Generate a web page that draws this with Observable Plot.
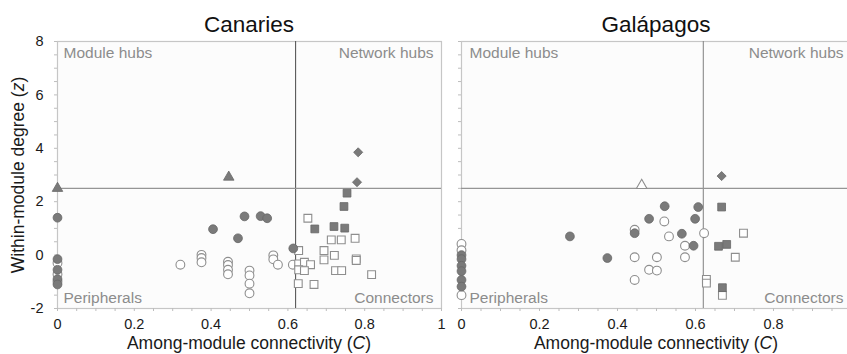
<!DOCTYPE html>
<html>
<head>
<meta charset="utf-8">
<script src="https://cdn.jsdelivr.net/npm/d3@7"></script>
<script src="https://cdn.jsdelivr.net/npm/@observablehq/plot@0.6"></script>
<style>
  html, body { margin: 0; padding: 0; background: #fff; overflow: hidden; }
  #chart { position: relative; width: 847px; height: 354px; overflow: hidden; font-family: "Liberation Sans", Arial, Helvetica, sans-serif; }
  #chart svg { position: absolute; top: 0; }
</style>
</head>
<body>
<div id="chart"></div>
<script>
// ---------- data: [C (among-module connectivity), z (within-module degree)] ----------
const panelTitles = ["Canaries", "Galápagos"];
const quadrantLabels = ["Module hubs", "Network hubs", "Peripherals", "Connectors"];
const xTicks = [0, 0.2, 0.4, 0.6, 0.8, 1];
const yTicks = [-2, 0, 2, 4, 6, 8];
const cThreshold = 0.62;
const zThreshold = 2.5;

// Canaries
const canFilledCircles = [[0,1.4],[0,-0.15],[0,-0.55],[0,-0.9],[0,-1.1],
  [0.405,0.97],[0.487,1.45],[0.47,0.63],[0.529,1.46],[0.546,1.38],[0.614,0.25]];
const canOpenCircles = [[0,-0.3],[0,-0.72],[0,-1.0],[0.32,-0.36],
  [0.375,0.01],[0.375,-0.11],[0.375,-0.27],
  [0.444,-0.25],[0.444,-0.37],[0.444,-0.55],[0.444,-0.72],
  [0.5,-0.58],[0.5,-0.76],[0.5,-1.07],[0.5,-1.43],
  [0.562,-0.01],[0.562,-0.16],[0.574,-0.36],[0.613,-0.36]];
const canFilledSquares = [[0.754,2.32],[0.746,1.82],[0.67,0.98],[0.72,1.07],[0.748,1.01]];
const canOpenSquares = [[0.652,1.38],[0.713,0.57],[0.739,0.57],[0.775,0.63],
  [0.628,0.17],[0.694,0.17],[0.721,-0.01],[0.694,-0.18],[0.778,-0.14],[0.778,-0.2],
  [0.628,-0.33],[0.643,-0.27],[0.659,-0.36],[0.628,-0.55],[0.643,-0.58],
  [0.724,-0.58],[0.74,-0.58],[0.818,-0.73],[0.627,-1.07],[0.668,-1.1]];
const canFilledDiamonds = [[0.783,3.85],[0.78,2.73]];
const canFilledTriangles = [[0,2.5],[0.446,2.92]];
const canOpenTriangles = [];

// Galápagos
const galFilledCircles = [[0,0],[0,-0.15],[0,-0.4],[0,-0.6],[0,-0.93],[0,-1.18],
  [0.278,0.7],[0.374,-0.11],[0.444,0.82],[0.481,1.36],[0.521,1.83],[0.565,0.8],
  [0.595,0.35],[0.599,1.36],[0.607,1.8]];
const galOpenCircles = [[0,0.42],[0,0.18],[0,-1.5],
  [0.444,0.95],[0.52,1.26],[0.532,0.7],[0.444,-0.08],[0.501,-0.08],[0.481,-0.55],
  [0.501,-0.58],[0.444,-0.93],[0.573,0.35],[0.573,-0.08],[0.622,0.82]];
const galFilledSquares = [[0.667,1.8],[0.659,0.33],[0.68,0.4],[0.669,-1.22]];
const galOpenSquares = [[0.723,0.82],[0.702,-0.08],[0.628,-0.91],[0.628,-1.05],[0.669,-1.51]];
const galFilledDiamonds = [[0.667,2.96]];
const galFilledTriangles = [];
const galOpenTriangles = [[0.462,2.61]];

// ---------- styles ----------
const FONT = '"Liberation Sans", Arial, Helvetica, sans-serif';
const filledStyle = {fill: "#7a7a7a", stroke: "#676767", strokeWidth: 0.8};
const openStyle = {fill: "#ffffff", stroke: "#8e8e8e", strokeWidth: 1.1};
const xy = {x: d => d[0], y: d => d[1]};

function panel(cfg, sets) {
  const marks = [
    Plot.frame({fill: "#fcfcfc", stroke: "#c6c6c6", strokeWidth: 1.2}),
    Plot.axisX({ticks: d3.range(0, 1.0001, 0.05), tickSize: 3, tickFormat: () => "", label: null, stroke: "#bdbdbd"}),
    Plot.axisY({ticks: d3.range(-2, 8.001, 0.5), tickSize: 3, tickFormat: () => "", label: null, stroke: "#bdbdbd"}),
    Plot.axisX({ticks: xTicks, tickSize: 0, tickPadding: 10, tickFormat: d => String(d), label: null, fill: "#1a1a1a", fontSize: 14.5}),
    cfg.yLabels ? Plot.axisY({ticks: yTicks, tickSize: 0, tickPadding: 14, tickFormat: d => String(d), label: null, fill: "#1a1a1a", fontSize: 14.5}) : null,
    Plot.ruleX([cThreshold], {stroke: cfg.vStroke, strokeWidth: 1.1}),
    Plot.ruleY([zThreshold], {stroke: "#959595", strokeWidth: 1.3}),
    Plot.text([quadrantLabels[0]], {frameAnchor: "top-left", dx: cfg.inL, dy: 12, textAnchor: "start", lineAnchor: "middle", fill: "#8c8c8c", fontSize: 15.5}),
    Plot.text([quadrantLabels[1]], {frameAnchor: "top-right", dx: -cfg.inR, dy: 12, textAnchor: "end", lineAnchor: "middle", fill: "#8c8c8c", fontSize: 15.5}),
    Plot.text([quadrantLabels[2]], {frameAnchor: "bottom-left", dx: cfg.inL, dy: -10, textAnchor: "start", lineAnchor: "middle", fill: "#8c8c8c", fontSize: 15.5}),
    Plot.text([quadrantLabels[3]], {frameAnchor: "bottom-right", dx: -cfg.inR, dy: -10, textAnchor: "end", lineAnchor: "middle", fill: "#8c8c8c", fontSize: 15.5}),
    Plot.dot(sets.openCircles, {...xy, symbol: "circle", r: 4.4, ...openStyle}),
    Plot.dot(sets.openSquares, {...xy, symbol: "square", r: 4.4, ...openStyle}),
    Plot.dot(sets.openTriangles, {...xy, symbol: "triangle", r: 3.9, ...openStyle}),
    Plot.dot(sets.filledCircles, {...xy, symbol: "circle", r: 4.4, ...filledStyle}),
    Plot.dot(sets.filledSquares, {...xy, symbol: "square", r: 4.4, ...filledStyle}),
    Plot.dot(sets.filledDiamonds, {...xy, symbol: "diamond2", r: 4.1, ...filledStyle}),
    Plot.dot(sets.filledTriangles, {...xy, symbol: "triangle", r: 3.9, ...filledStyle})
  ].filter(Boolean);

  const svg = Plot.plot({
    width: cfg.width,
    height: 354,
    marginLeft: cfg.ml,
    marginRight: cfg.mr,
    marginTop: 41,
    marginBottom: 46,
    x: {domain: [0, 1]},
    y: {domain: [-2, 8]},
    style: {background: "none", fontFamily: FONT, fontSize: "14.5px", color: "#1a1a1a", overflow: "visible"},
    marks
  });
  svg.style.left = cfg.left + "px";
  svg.style.maxWidth = "none";

  const s = d3.select(svg);
  const cx = cfg.ml + (cfg.width - cfg.ml - cfg.mr) / 2;
  s.append("text")
    .attr("x", cx).attr("y", 31.5)
    .attr("text-anchor", "middle")
    .attr("font-family", FONT).attr("font-size", 22.5).attr("fill", "#111")
    .text(cfg.title);
  const xl = s.append("text")
    .attr("x", cx).attr("y", 349)
    .attr("text-anchor", "middle")
    .attr("font-family", FONT).attr("font-size", 17.5).attr("fill", "#1a1a1a");
  xl.append("tspan").text("Among-module connectivity (");
  xl.append("tspan").attr("font-style", "italic").text("C");
  xl.append("tspan").text(")");
  if (cfg.yLabels) {
    const yl = s.append("text")
      .attr("transform", "translate(24,175) rotate(-90)")
      .attr("text-anchor", "middle")
      .attr("font-family", FONT).attr("font-size", 17.5).attr("fill", "#1a1a1a");
    yl.append("tspan").text("Within-module degree (");
    yl.append("tspan").attr("font-style", "italic").text("z");
    yl.append("tspan").text(")");
  }
  return svg;
}

const chart = document.getElementById("chart");
chart.appendChild(panel(
  {title: panelTitles[0], width: 450, ml: 57, mr: 9, left: 0, yLabels: true, vStroke: "#5a5a5a", inL: 6, inR: 8},
  {filledCircles: canFilledCircles, openCircles: canOpenCircles, filledSquares: canFilledSquares,
   openSquares: canOpenSquares, filledDiamonds: canFilledDiamonds, filledTriangles: canFilledTriangles,
   openTriangles: canOpenTriangles}
));
chart.appendChild(panel(
  {title: panelTitles[1], width: 420, ml: 21, mr: 9, left: 440, yLabels: false, vStroke: "#8a8a8a", inL: 8, inR: 8},
  {filledCircles: galFilledCircles, openCircles: galOpenCircles, filledSquares: galFilledSquares,
   openSquares: galOpenSquares, filledDiamonds: galFilledDiamonds, filledTriangles: galFilledTriangles,
   openTriangles: galOpenTriangles}
));
</script>
</body>
</html>
